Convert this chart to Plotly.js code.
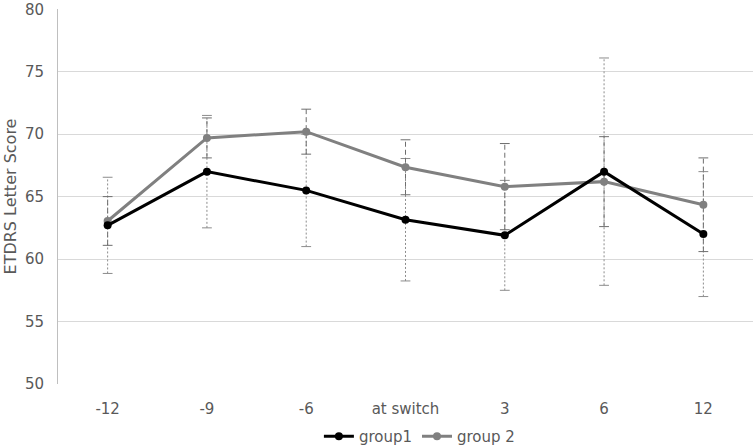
<!DOCTYPE html>
<html>
<head>
<meta charset="utf-8">
<script src="https://cdn.plot.ly/plotly-3.0.1.min.js"></script>
<style>html,body{margin:0;padding:0;background:#fff;}#chart{width:753px;height:447px;}</style>
</head>
<body>
<div id="chart"></div>
<script>
const categories = ["-12", "-9", "-6", "at switch", "3", "6", "12"];
const group1 = [62.7, 67.0, 65.5, 63.15, 61.9, 67.0, 62.0];
const group1Err = [3.85, 4.5, 4.5, 4.9, 4.4, 9.1, 5.0];
const group2 = [63.05, 69.7, 70.2, 67.35, 65.8, 66.2, 64.35];
const group2Err = [1.95, 1.6, 1.8, 2.2, 3.45, 3.6, 3.75];
const yTicks = [50, 55, 60, 65, 70, 75, 80];

function errTrace(vals, errs, color, dash) {
  const xs = [], ys = [];
  categories.forEach((c, i) => {
    xs.push(c, c, null);
    ys.push(vals[i] - errs[i], vals[i] + errs[i], null);
  });
  return {
    x: xs, y: ys, type: 'scatter', mode: 'lines+markers', showlegend: false, hoverinfo: 'skip',
    line: {color: color, width: 1, dash: dash},
    marker: {symbol: 'line-ew', size: 7, line: {width: 1, color: color}}
  };
}

const font = "'DejaVu Sans', sans-serif";
const data = [
  errTrace(group1, group1Err, '#8c8c8c', '2px,2px'),
  errTrace(group2, group2Err, '#6e6e6e', '5px,3px'),
  {x: categories, y: group2, name: 'group 2', type: 'scatter', mode: 'lines+markers',
   line: {color: '#808080', width: 3}, marker: {color: '#808080', size: 8}},
  {x: categories, y: group1, name: 'group1', type: 'scatter', mode: 'lines+markers',
   line: {color: '#000000', width: 3}, marker: {color: '#000000', size: 8}}
];

const layout = {
  width: 753, height: 447,
  margin: {l: 58, r: 0, t: 9, b: 63, autoexpand: false},
  paper_bgcolor: '#fff', plot_bgcolor: '#fff',
  font: {family: font, size: 15, color: '#595959'},
  showlegend: true,
  legend: {orientation: 'h', x: 0.52, xanchor: 'center', y: -0.14, yanchor: 'middle',
           traceorder: 'reversed', itemwidth: 30, font: {size: 15, color: '#595959'}},
  xaxis: {type: 'category', range: [-0.5, 6.5], showgrid: false, zeroline: false,
          showline: false, ticks: '', ticklabelstandoff: 14, fixedrange: true},
  yaxis: {range: [50, 80.02], tickvals: yTicks, showgrid: true, gridcolor: '#d9d9d9', gridwidth: 1,
          zeroline: false, showline: true, linecolor: '#bfbfbf', linewidth: 1, ticks: '',
          ticklabelstandoff: 10,
          title: {text: 'ETDRS Letter Score', font: {size: 16, color: '#595959'}, standoff: 4}}
};

Plotly.newPlot('chart', data, layout, {displayModeBar: false, staticPlot: true});
</script>
</body>
</html>
